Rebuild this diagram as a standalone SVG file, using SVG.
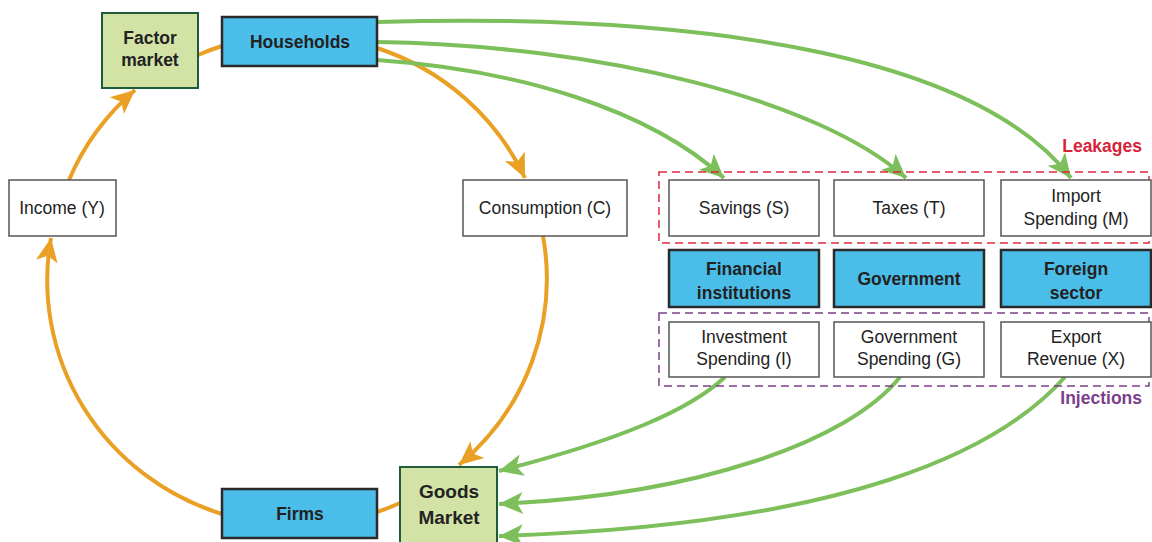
<svg xmlns="http://www.w3.org/2000/svg" width="1152" height="542" viewBox="0 0 1152 542">
<defs>
<style>
.t{font-family:"Liberation Sans",Arial,sans-serif;font-size:17.5px;fill:#222;text-anchor:middle}
.b{font-weight:bold;font-size:17.5px}
.w{fill:#fff;stroke:#555;stroke-width:1.5}
.bl{fill:#4bbde9;stroke:#2a2a2a;stroke-width:2.5}
.gr{fill:#d3e3a6;stroke:#1f5c3a;stroke-width:2}
.o{fill:none;stroke:#e9a024;stroke-width:4}
.g{fill:none;stroke:#7dbf5a;stroke-width:4}
</style>
<marker id="ao" markerUnits="userSpaceOnUse" markerWidth="26" markerHeight="26" viewBox="0 0 26 26" refX="24" refY="13" orient="auto"><path d="M0,2 L24,13 L0,24 L6,13 Z" fill="#e9a024"/></marker>
<marker id="ag" markerUnits="userSpaceOnUse" markerWidth="26" markerHeight="26" viewBox="0 0 26 26" refX="24" refY="13" orient="auto"><path d="M0,2 L24,13 L0,24 L6,13 Z" fill="#7dbf5a"/></marker>
</defs>
<rect width="1152" height="542" fill="#fff"/>
<g id="connectors">
<path class="o" d="M377,48 A250,245 0 0 1 525,178" marker-end="url(#ao)"/>
<path class="o" d="M543,236 A250,245 0 0 1 459,465" marker-end="url(#ao)"/>
<path class="o" d="M400,503 A250,245 0 0 1 377,512"/>
<path class="o" d="M222,514 A250,245 0 0 1 51,238" marker-end="url(#ao)"/>
<path class="o" d="M69,180 A250,245 0 0 1 135,90" marker-end="url(#ao)"/>
<path class="o" d="M198,55 A250,245 0 0 1 222,46"/>
<path class="g" d="M377,60 C520,70 650,110 724,178" marker-end="url(#ag)"/>
<path class="g" d="M377,42 C600,45 820,100 906,178" marker-end="url(#ag)"/>
<path class="g" d="M377,22 C720,12 980,60 1071,178" marker-end="url(#ag)"/>
<path class="g" d="M725,377 C690,410 620,440 499,471" marker-end="url(#ag)"/>
<path class="g" d="M900,377 C850,440 700,495 499,504" marker-end="url(#ag)"/>
<path class="g" d="M1065,377 C1000,450 850,525 499,536" marker-end="url(#ag)"/>
</g>
<g id="leakages">
<rect x="659" y="172" width="490" height="71" fill="none" stroke="#e0283c" stroke-width="1.5" stroke-dasharray="8,5"/>
<text class="t b" x="1142" y="152" style="text-anchor:end;fill:#d6243a">Leakages</text>
</g>
<g id="injections">
<rect x="659" y="313" width="490" height="73" fill="none" stroke="#7b3f8c" stroke-width="1.5" stroke-dasharray="8,5"/>
<text class="t b" x="1142" y="404" style="text-anchor:end;fill:#7b3f8c">Injections</text>
</g>
<g id="factor-market"><rect class="gr" x="102" y="13" width="96" height="75"/><text class="t b" x="150" y="44">Factor</text><text class="t b" x="150" y="66">market</text></g>
<g id="households"><rect class="bl" x="222" y="17" width="155" height="49"/><text class="t b" x="300" y="48">Households</text></g>
<g id="income"><rect class="w" x="9" y="180" width="107" height="56"/><text class="t" x="62" y="214">Income (Y)</text></g>
<g id="consumption"><rect class="w" x="463" y="180" width="164" height="56"/><text class="t" x="545" y="214">Consumption (C)</text></g>
<g id="goods-market"><rect class="gr" x="400" y="467" width="97" height="80"/><text class="t b" x="449" y="498" style="font-size:19px">Goods</text><text class="t b" x="449" y="524" style="font-size:19px">Market</text></g>
<g id="firms"><rect class="bl" x="222" y="489" width="155" height="49"/><text class="t b" x="300" y="520">Firms</text></g>
<g id="savings"><rect class="w" x="669" y="180" width="150" height="56"/><text class="t" x="744" y="214">Savings (S)</text></g>
<g id="taxes"><rect class="w" x="834" y="180" width="150" height="56"/><text class="t" x="909" y="214">Taxes (T)</text></g>
<g id="import"><rect class="w" x="1001" y="180" width="150" height="56"/><text class="t" x="1076" y="202">Import</text><text class="t" x="1076" y="225">Spending (M)</text></g>
<g id="financial"><rect class="bl" x="669" y="250" width="150" height="57"/><text class="t b" x="744" y="275">Financial</text><text class="t b" x="744" y="299">institutions</text></g>
<g id="government"><rect class="bl" x="834" y="250" width="150" height="57"/><text class="t b" x="909" y="285">Government</text></g>
<g id="foreign"><rect class="bl" x="1001" y="250" width="150" height="57"/><text class="t b" x="1076" y="275">Foreign</text><text class="t b" x="1076" y="299">sector</text></g>
<g id="investment"><rect class="w" x="669" y="322" width="150" height="55"/><text class="t" x="744" y="343">Investment</text><text class="t" x="744" y="365">Spending (I)</text></g>
<g id="gov-spending"><rect class="w" x="834" y="322" width="150" height="55"/><text class="t" x="909" y="343">Government</text><text class="t" x="909" y="365">Spending (G)</text></g>
<g id="export"><rect class="w" x="1001" y="322" width="150" height="55"/><text class="t" x="1076" y="343">Export</text><text class="t" x="1076" y="365">Revenue (X)</text></g>
</svg>
